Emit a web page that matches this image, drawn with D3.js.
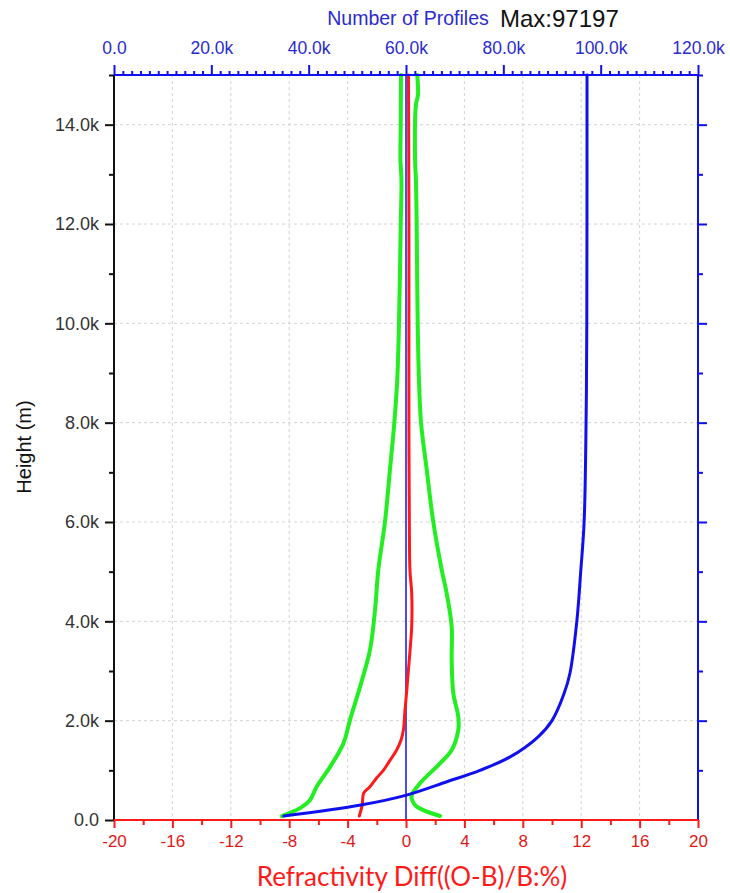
<!DOCTYPE html>
<html><head><meta charset="utf-8">
<script src="https://cdn.jsdelivr.net/npm/d3@7"></script>
<style>body{margin:0;background:#fff}</style>
</head><body>
<svg id="chart" width="730" height="893"></svg>
<script>
// ---- data ----
const heightTicks = [0, 2000, 4000, 6000, 8000, 10000, 12000, 14000];
const heightTickLabels = ["0.0", "2.0k", "4.0k", "6.0k", "8.0k", "10.0k", "12.0k", "14.0k"];
const heightMinorTicks = [1000, 3000, 5000, 7000, 9000, 11000, 13000, 15000];
const diffTicks = [-20, -16, -12, -8, -4, 0, 4, 8, 12, 16, 20];
const diffTickLabels = ["-20", "-16", "-12", "-8", "-4", "0", "4", "8", "12", "16", "20"];
const diffMinorTicks = [-18, -14, -10, -6, -2, 2, 6, 10, 14, 18];
const countTicks = [0, 20000, 40000, 60000, 80000, 100000, 120000];
const countTickLabels = ["0.0", "20.0k", "40.0k", "60.0k", "80.0k", "100.0k", "120.0k"];
const maxProfiles = 97197;

// mean O-B (%)
const meanHeights = [80, 300, 540, 670, 850, 1000, 1200, 1410, 1600, 1810, 2210, 2600, 3000, 3500, 3890, 4570, 5030, 6000, 8000, 10000, 12000, 14000, 15000];
const meanDiff    = [-3.2, -3.0, -2.9, -2.47, -2.0, -1.55, -1.1, -0.64, -0.35, -0.18, -0.07, 0.05, 0.16, 0.3, 0.39, 0.39, 0.27, 0.23, 0.2, 0.2, 0.2, 0.18, 0.17];

// mean - std
const lowerHeights = [80, 250, 400, 670, 1070, 1540, 2010, 2680, 3420, 4230, 5030, 6000, 7050, 8000, 8860, 10000, 12000, 12880, 13300, 14000, 14600, 15000];
const lowerDiff    = [-8.5, -7.2, -6.58, -6.12, -5.2, -4.29, -3.84, -3.15, -2.47, -2.12, -1.9, -1.44, -1.1, -0.8, -0.6, -0.48, -0.36, -0.31, -0.38, -0.36, -0.35, -0.34];

// mean + std
const upperHeights = [80, 270, 400, 500, 740, 1140, 1410, 1810, 2080, 2550, 3220, 3890, 4560, 5030, 6000, 7050, 8000, 8860, 10000, 12000, 12880, 13300, 14400, 14600, 15000];
const upperDiff    = [2.33, 0.73, 0.42, 0.39, 0.96, 2.33, 3.13, 3.58, 3.58, 3.24, 3.13, 3.13, 2.79, 2.45, 1.87, 1.42, 1.03, 0.89, 0.8, 0.73, 0.68, 0.62, 0.68, 0.82, 0.77];

// number of profiles
const countHeights = [80, 300, 500, 770, 1000, 1270, 1670, 2000, 2550, 2960, 4000, 5000, 6000, 8000, 10000, 15000];
const countValues  = [34900, 50700, 60100, 68400, 75200, 81400, 87100, 90000, 92500, 93700, 95100, 95900, 96600, 97000, 97150, 97197];

// ---- layout ----
const L = 114, R = 698, T = 75, B = 820;
const svg = d3.select("#chart");
const x = d3.scaleLinear().domain([-20, 20]).range([L, R]);
const xc = d3.scaleLinear().domain([0, 120000]).range([L, R]);
const y = d3.scaleLinear().domain([0, 15000]).range([B, T]);

const FONT = "'Liberation Sans', Arial, sans-serif";
const BLUE = "#1010ee", RED = "#ff1a1a", GREEN = "#22ee22", LBLUE = "#2b2bd0";

// grid
const grid = svg.append("g").attr("stroke", "#d4d4d4").attr("stroke-width", 1).attr("stroke-dasharray", "3,3");
grid.selectAll("line.v").data(diffTicks.filter(d => d !== -20 && d !== 20 && d !== 0)).join("line")
  .attr("x1", d => x(d)).attr("x2", d => x(d)).attr("y1", T).attr("y2", B);
grid.selectAll("line.h").data(heightTicks.filter(d => d > 0)).join("line")
  .attr("x1", L).attr("x2", R).attr("y1", d => y(d)).attr("y2", d => y(d));

// zero line
svg.append("line").attr("x1", x(0)).attr("x2", x(0)).attr("y1", T).attr("y2", B)
  .attr("stroke", BLUE).attr("stroke-width", 1.5);

// curves
const lineOf = (xs) => d3.line().x(d => xs(d[0])).y(d => y(d[1])).curve(d3.curveCatmullRom.alpha(0.5));
svg.append("path").datum(lowerDiff.map((v, i) => [v, lowerHeights[i]]))
  .attr("d", lineOf(x)).attr("fill", "none").attr("stroke", GREEN).attr("stroke-width", 4).attr("stroke-linecap", "round");
svg.append("path").datum(upperDiff.map((v, i) => [v, upperHeights[i]]))
  .attr("d", lineOf(x)).attr("fill", "none").attr("stroke", GREEN).attr("stroke-width", 4).attr("stroke-linecap", "round");
svg.append("path").datum(meanDiff.map((v, i) => [v, meanHeights[i]]))
  .attr("d", lineOf(x)).attr("fill", "none").attr("stroke", RED).attr("stroke-width", 3).attr("stroke-linecap", "round");
svg.append("path").datum(countValues.map((v, i) => [v, countHeights[i]]))
  .attr("d", lineOf(xc)).attr("fill", "none").attr("stroke", BLUE).attr("stroke-width", 3).attr("stroke-linecap", "round");

// axes
function styleAxis(g, color, fontColor, size) {
  g.select(".domain").remove();
  g.selectAll(".tick line").attr("stroke", color).attr("stroke-width", 2);
  g.selectAll(".tick text").attr("fill", fontColor).attr("font-family", FONT).attr("font-size", size);
}
// left
svg.append("g").attr("transform", `translate(${L},0)`)
  .call(d3.axisLeft(y).tickValues(heightMinorTicks).tickSize(5).tickFormat(""))
  .call(g => styleAxis(g, "#111", "#333", 18));
svg.append("g").attr("transform", `translate(${L},0)`)
  .call(d3.axisLeft(y).tickValues(heightTicks).tickSize(9).tickPadding(6).tickFormat((d, i) => heightTickLabels[i]))
  .call(g => styleAxis(g, "#111", "#333", 18));
// right
svg.append("g").attr("transform", `translate(${R},0)`)
  .call(d3.axisRight(y).tickValues(heightMinorTicks).tickSize(5).tickFormat(""))
  .call(g => styleAxis(g, BLUE, BLUE, 18));
svg.append("g").attr("transform", `translate(${R},0)`)
  .call(d3.axisRight(y).tickValues(heightTicks.filter(d => d > 0)).tickSize(9).tickFormat(""))
  .call(g => styleAxis(g, BLUE, BLUE, 18));
// bottom
svg.append("g").attr("transform", `translate(0,${B})`)
  .call(d3.axisBottom(x).tickValues(diffMinorTicks).tickSize(5).tickFormat(""))
  .call(g => styleAxis(g, RED, RED, 17));
svg.append("g").attr("transform", `translate(0,${B})`)
  .call(d3.axisBottom(x).tickValues(diffTicks).tickSize(8).tickPadding(7).tickFormat((d, i) => diffTickLabels[i]))
  .call(g => styleAxis(g, RED, "#e01818", 17));
// top
const minorCount = d3.range(0, 120001, 20000 / 11).filter(v => Math.abs(v / 20000 - Math.round(v / 20000)) > 1e-6);
svg.append("g").attr("transform", `translate(0,${T})`)
  .call(d3.axisTop(xc).tickValues(minorCount).tickSize(4).tickFormat(""))
  .call(g => styleAxis(g, BLUE, BLUE, 17));
svg.append("g").attr("transform", `translate(0,${T})`)
  .call(d3.axisTop(xc).tickValues(countTicks).tickSize(10).tickPadding(11).tickFormat((d, i) => countTickLabels[i]))
  .call(g => styleAxis(g, BLUE, LBLUE, 17.5));

// axis lines (frame)
svg.append("line").attr("x1", L).attr("x2", L).attr("y1", T).attr("y2", B).attr("stroke", "#111").attr("stroke-width", 2);
svg.append("line").attr("x1", R).attr("x2", R).attr("y1", T).attr("y2", B).attr("stroke", BLUE).attr("stroke-width", 2);
svg.append("line").attr("x1", L).attr("x2", R).attr("y1", T).attr("y2", T).attr("stroke", BLUE).attr("stroke-width", 2);
svg.append("line").attr("x1", L).attr("x2", R).attr("y1", B).attr("y2", B).attr("stroke", RED).attr("stroke-width", 2);

// titles
svg.append("text").attr("x", 408).attr("y", 25).attr("text-anchor", "middle")
  .attr("font-family", FONT).attr("font-size", 19.5).attr("fill", LBLUE).text("Number of Profiles");
svg.append("text").attr("x", 500).attr("y", 27)
  .attr("font-family", FONT).attr("font-size", 24).attr("fill", "#111").text("Max:" + maxProfiles);
svg.append("text").attr("transform", "translate(31,447) rotate(-90)").attr("text-anchor", "middle")
  .attr("font-family", FONT).attr("font-size", 20).attr("fill", "#111").text("Height (m)");
svg.append("text").attr("x", 412).attr("y", 886).attr("text-anchor", "middle")
  .attr("font-family", "Lato, 'Open Sans', sans-serif").attr("font-size", 26).attr("fill", "#ff1a1a")
  .text("Refractivity Diff((O-B)/B:%)");
</script>
</body></html>
